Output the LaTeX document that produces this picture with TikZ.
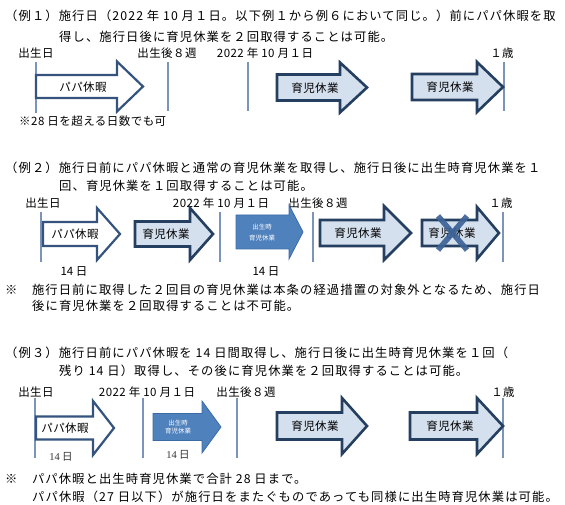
\documentclass[tikz,border=0pt]{standalone}
\usepackage{fontspec}
\setmainfont{Noto Sans CJK JP}
\newfontfamily\numserif{Liberation Serif}
\definecolor{dline}{HTML}{243F60}
\definecolor{wline}{HTML}{34547E}
\definecolor{lfill}{HTML}{D5E0EE}
\definecolor{bfill}{HTML}{4F81BD}
\definecolor{bline}{HTML}{3A6BA5}
\definecolor{vl}{HTML}{7C94BC}
\definecolor{xcol}{HTML}{3D6397}
\newcommand\blockarrow[7]{%
  \draw[#1] (#2,#5-#6) -- (#3,#5-#6) -- (#3,#5-#7) -- (#4,#5) -- (#3,#5+#7) -- (#3,#5+#6) -- (#2,#5+#6) -- cycle;}
\tikzset{
  ttl/.style={anchor=west, inner sep=0pt, font=\fontsize{12.3}{14}\selectfont\addfontfeatures{LetterSpace=9}},
  lbl/.style={inner sep=0pt, font=\fontsize{11.5}{13}\selectfont\addfontfeatures{LetterSpace=4}},
  atxt/.style={inner sep=0pt, font=\fontsize{11.5}{13}\selectfont\addfontfeatures{LetterSpace=3}},
  btxt/.style={inner sep=0pt, text=white, font=\fontsize{6.5}{7}\selectfont},
  dtxt/.style={inner sep=0pt, font=\fontsize{11.5}{13}\selectfont},
  stxt/.style={inner sep=0pt, text=black!80, font=\fontsize{10.5}{12}\selectfont},
  vline/.style={draw=vl, line width=1.2pt},
  warrow/.style={draw=wline, fill=white, line width=2.2pt},
  larrow/.style={draw=dline, fill=lfill, line width=2.6pt},
  barrow/.style={draw=bline, fill=bfill, line width=0.8pt},
  xline/.style={draw=xcol, line width=5.5pt, opacity=0.92}
}
\begin{document}
\begin{tikzpicture}[x=1pt,y=-1pt]
\useasboundingbox (0,0) rectangle (565,505);
% ---------- Example 1 ----------
\node[ttl] (t1a) at (5,16) {（例１）施行日（2022 年 10 月１日。以下例１から例６において同じ。）前にパパ休暇を取};
\node[ttl] (t1b) at (59,37) {得し、施行日後に育児休業を２回取得することは可能。};
\node[lbl] (e1a) at (36,53) {出生日};
\node[lbl] (e1b) at (167,53) {出生後８週};
\node[lbl] (e1c) at (265,53) {2022 年 10 月１日};
\node[lbl] (e1d) at (502,53) {１歳};
\draw[vline] (36,62) -- (36,113);
\draw[vline] (168,62) -- (168,111);
\draw[vline] (248,62) -- (248,111);
\draw[vline] (504,62) -- (504,111);
\blockarrow{warrow}{36}{117}{143}{86.5}{11.5}{25}
\blockarrow{larrow}{277}{340}{367}{87.5}{13}{25}
\blockarrow{larrow}{412}{477}{503}{87}{13}{25}
\node[atxt] (p1) at (83,87) {パパ休暇};
\node[atxt] (c1a) at (315,88) {育児休業};
\node[atxt] (c1b) at (450,87) {育児休業};
\node[lbl, anchor=west] (n1) at (19,121) {※28 日を超える日数でも可};
% ---------- Example 2 ----------
\node[ttl] (t2a) at (5,168) {（例２）施行日前にパパ休暇と通常の育児休業を取得し、施行日後に出生時育児休業を１};
\node[ttl] (t2b) at (59,186) {回、育児休業を１回取得することは可能。};
\node[lbl] (e2a) at (43,203) {出生日};
\node[lbl] (e2b) at (221,203) {2022 年 10 月１日};
\node[lbl] (e2c) at (318,203) {出生後８週};
\node[lbl] (e2d) at (501,203) {１歳};
\draw[vline] (41,212) -- (41,262);
\draw[vline] (220,212) -- (220,262);
\draw[vline] (313,212) -- (313,262);
\draw[vline] (503,212) -- (503,262);
\blockarrow{warrow}{43}{97}{120}{234}{12}{26}
\blockarrow{larrow}{135}{190}{213}{234}{12.5}{26}
\blockarrow{barrow}{236}{289}{303}{232}{17}{27}
\blockarrow{larrow}{320}{384}{411}{233}{13}{27}
\blockarrow{larrow}{422}{477}{499}{233}{13}{26}
\node[atxt] (p2) at (75,234) {パパ休暇};
\node[atxt] (c2a) at (166,234) {育児休業};
\node[btxt] (b2a) at (262,227) {出生時};
\node[btxt] (b2b) at (262,238) {育児休業};
\node[atxt] (c2b) at (358,233) {育児休業};
\node[atxt] (c2c) at (452,233) {育児休業};
\draw[xline] (438,216) -- (467,250);
\draw[xline] (438,250) -- (467,216);
\node[dtxt] (d2a) at (74,271) {14 日};
\node[dtxt] (d2b) at (266,271) {14 日};
\node[ttl] (n2a) at (5,290) {※　施行日前に取得した２回目の育児休業は本条の経過措置の対象外となるため、施行日};
\node[ttl] (n2b) at (32,306) {後に育児休業を２回取得することは不可能。};
% ---------- Example 3 ----------
\node[ttl] (t3a) at (5,353) {（例３）施行日前にパパ休暇を 14 日間取得し、施行日後に出生時育児休業を１回（};
\node[ttl] (t3b) at (59,371) {残り 14 日）取得し、その後に育児休業を２回取得することは可能。};
\node[lbl] (e3a) at (36,392) {出生日};
\node[lbl] (e3b) at (147,392) {2022 年 10 月１日};
\node[lbl] (e3c) at (246,392) {出生後８週};
\node[lbl] (e3d) at (503,392) {１歳};
\draw[vline] (35,398) -- (35,458);
\draw[vline] (143,398) -- (143,458);
\draw[vline] (237,398) -- (237,458);
\draw[vline] (503,398) -- (503,458);
\blockarrow{warrow}{36}{93}{114}{428}{11.5}{27}
\blockarrow{barrow}{153}{202}{221}{427}{13.5}{26}
\blockarrow{larrow}{277}{342}{367}{426}{13.5}{28}
\blockarrow{larrow}{410}{477}{503}{426}{13.5}{28}
\node[atxt] (p3) at (65,428) {パパ休暇};
\node[btxt] (b3a) at (178,423) {出生時};
\node[btxt] (b3b) at (178,431) {育児休業};
\node[atxt] (c3a) at (315,426) {育児休業};
\node[atxt] (c3b) at (450,426) {育児休業};
\node[stxt] (d3a) at (61,457) {{\numserif 14} 日};
\node[stxt] (d3b) at (178,455) {{\numserif 14} 日};
\node[ttl] (n3a) at (5,479) {※　パパ休暇と出生時育児休業で合計 28 日まで。};
\node[ttl] (n3b) at (32,497) {パパ休暇（27 日以下）が施行日をまたぐものであっても同様に出生時育児休業は可能。};
\end{tikzpicture}
\end{document}
